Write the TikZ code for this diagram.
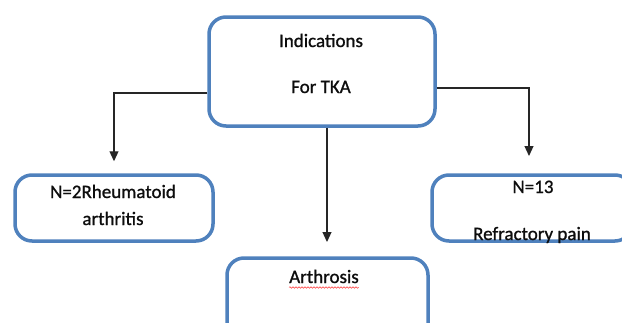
\documentclass[tikz,border=0pt]{standalone}
\usepackage{fontspec}
\setmainfont{Carlito}[FakeBold=1]
\usetikzlibrary{arrows.meta,positioning,decorations.pathmorphing}
\definecolor{boxblue}{HTML}{4F81BD}
\definecolor{txtgray}{HTML}{0D0D0D}
\tikzset{
  box/.style={draw=boxblue, line width=3.5pt, rounded corners=17pt, fill=white, inner sep=0pt},
  lbl/.style={text=txtgray, anchor=base, inner sep=0pt, font=\fontsize{19}{23}\selectfont},
  conn/.style={draw=black!85, line width=1.2pt, -{Triangle[width=9pt,length=10pt]}},
}
\begin{document}
\begin{tikzpicture}[x=1pt,y=-1pt]
\clip (0,0) rectangle (622,322);
\useasboundingbox (0,0) rectangle (622,322);
% Kaesten
\node[box, minimum width=226pt, minimum height=109pt] (tka) at (322,71.5) {};
\node[box, minimum width=198pt, minimum height=66pt] (ra) at (114,208) {};
\node[box, minimum width=200pt, minimum height=66pt] (pain) at (532,208) {};
\node[box, minimum width=201pt, minimum height=100pt] (arth) at (327.5,308) {};
% Texte
\node[lbl] (tka1) at (321,47) {Indications};
\node[lbl] (tka2) at (321,93) {For TKA};
\node[lbl] (ra1) at (113,198) {N=2Rheumatoid};
\node[lbl] (ra2) at (113,225) {arthritis};
\node[lbl] (pain1) at (533,193) {N=13};
\node[lbl] (pain2) at (532,240) {Refractory pain};
\node[lbl] (arthtxt) at (324,283) {Arthrosis};
% Rechtschreibmarke
\draw[red!80, line width=0.5pt, decorate, decoration={snake, amplitude=0.8pt, segment length=3pt}]
  ([yshift=-4.5pt]arthtxt.base west) -- ([yshift=-4.5pt]arthtxt.base east);
% Verbindungspfeile
\coordinate (lbend) at (114,93);
\coordinate (rbend) at (529,88);
\coordinate (rtip) at (529,156);
\coordinate (ctip) at (327,242);
\draw[conn] (tka.west |- lbend) -- (lbend) -- ([yshift=12pt]ra.north);
\draw[conn] (tka.east |- rbend) -- (rbend) -- (rtip);
\draw[conn] (tka.south -| ctip) -- (ctip);
\end{tikzpicture}
\end{document}
